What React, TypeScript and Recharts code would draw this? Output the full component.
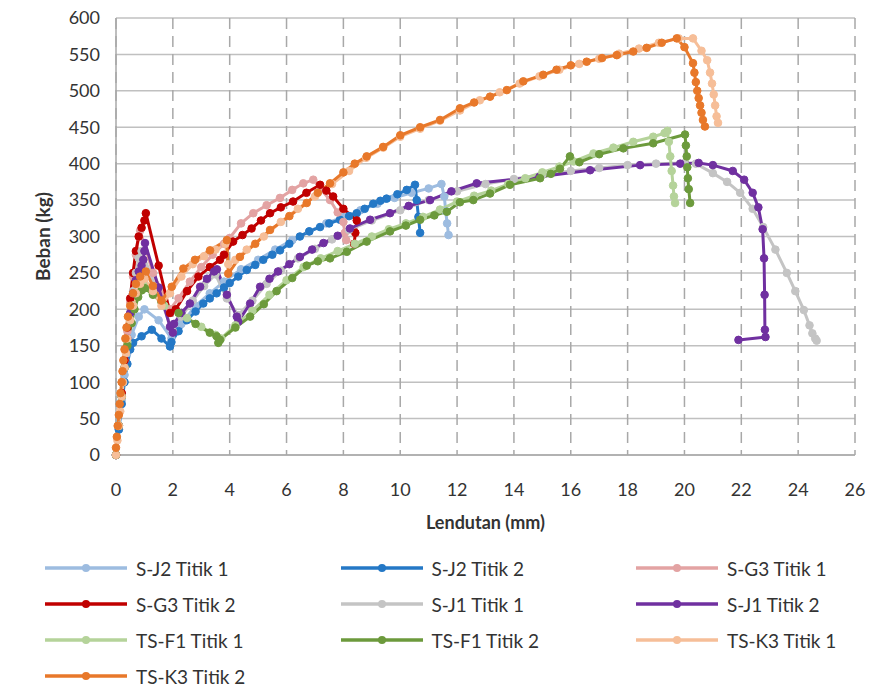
import { CartesianGrid, Label, Line, LineChart, XAxis, YAxis } from "recharts";

type Pt = [number, number];

// Lendutan (mm), Beban (kg)
const sj2t1: Pt[] = [
  [0, 0], [0.1, 35], [0.2, 75], [0.3, 110], [0.4, 140], [0.55, 165], [0.8, 190], [1.0, 200], [1.5, 185],
  [1.95, 160], [2.3, 180], [2.8, 205], [3.3, 222], [3.8, 238], [4.4, 255], [5.0, 268], [5.6, 282], [6.2, 295],
  [6.8, 307], [7.4, 318], [8.0, 327], [8.6, 336], [9.2, 345], [9.8, 353], [10.4, 360], [11.0, 366],
  [11.45, 372], [11.55, 355], [11.6, 335], [11.65, 318], [11.7, 302],
];
const sj2t2: Pt[] = [
  [0, 0], [0.1, 35], [0.2, 70], [0.3, 100], [0.4, 125], [0.5, 145], [0.6, 154], [0.9, 163], [1.26, 172],
  [1.6, 160], [1.9, 149], [1.95, 155], [2.2, 170], [2.49, 185], [2.8, 197], [3.07, 208], [3.3, 215],
  [3.54, 222], [3.8, 230], [4.0, 236], [4.3, 245], [4.6, 254], [4.9, 261], [5.18, 268], [5.5, 275],
  [5.77, 281], [6.1, 290], [6.47, 300], [6.8, 307], [7.18, 313], [7.5, 318], [7.88, 323], [8.2, 328],
  [8.47, 332], [8.75, 338], [9.05, 345], [9.3, 349], [9.52, 352], [9.9, 358], [10.23, 364], [10.52, 371],
  [10.58, 350], [10.64, 327], [10.7, 305],
];
const sg3t1: Pt[] = [
  [0, 0], [0.1, 40], [0.2, 85], [0.3, 130], [0.4, 170], [0.5, 210], [0.6, 245], [0.7, 275], [0.8, 300],
  [0.85, 308], [1.3, 250], [1.9, 200], [2.2, 215], [2.6, 238], [3.0, 258], [3.4, 275], [3.8, 290], [4.0, 298],
  [4.4, 318], [4.83, 332], [5.3, 343], [5.77, 353], [6.2, 364], [6.59, 373], [6.94, 378], [7.2, 365],
  [7.53, 350], [7.8, 333], [8.0, 320], [8.05, 305], [8.1, 295],
];
const sg3t2: Pt[] = [
  [0, 0], [0.1, 40], [0.2, 85], [0.3, 130], [0.4, 175], [0.5, 215], [0.6, 250], [0.7, 280], [0.8, 300],
  [0.9, 312], [1.0, 322], [1.05, 332], [1.5, 260], [1.9, 195], [2.1, 200], [2.5, 225], [2.9, 245], [3.3, 258],
  [3.66, 268], [3.8, 275], [4.12, 293], [4.45, 302], [4.77, 311], [5.1, 322], [5.42, 332], [5.8, 340],
  [6.23, 348], [6.7, 360], [7.18, 371], [7.4, 363], [7.64, 355], [8.0, 338], [8.47, 322], [8.42, 305],
  [8.38, 290],
];
const sj1t1: Pt[] = [
  [0, 0], [0.1, 40], [0.2, 80], [0.3, 120], [0.4, 160], [0.5, 195], [0.6, 225], [0.7, 250], [0.8, 270],
  [0.9, 280], [1.4, 230], [2.0, 170], [2.3, 190], [2.7, 212], [3.1, 232], [3.5, 248], [3.9, 215], [4.3, 192],
  [4.8, 212], [5.3, 235], [5.8, 253], [6.4, 270], [7.0, 283], [7.6, 296], [8.2, 309], [9.0, 322], [10.0, 336],
  [11.0, 350], [12.0, 362], [13.0, 372], [14.0, 379], [15.0, 385], [16.0, 390], [17.0, 394], [18.0, 398],
  [19.0, 400], [20.0, 401], [20.4, 400], [21.0, 387], [21.5, 375], [21.96, 360], [22.4, 338], [22.77, 313],
  [23.2, 282], [23.6, 250], [23.9, 225], [24.2, 199], [24.4, 178], [24.5, 167], [24.6, 160], [24.65, 157],
];
const sj1t2: Pt[] = [
  [0, 0], [0.1, 40], [0.2, 80], [0.3, 120], [0.4, 160], [0.5, 195], [0.6, 222], [0.7, 240], [0.8, 252],
  [0.9, 260], [0.96, 268], [1.0, 280], [1.02, 291], [1.5, 230], [1.9, 176], [2.0, 168], [2.04, 180],
  [2.3, 195], [2.6, 208], [2.96, 231], [3.2, 242], [3.45, 252], [3.55, 255], [3.9, 220], [4.25, 190],
  [4.3, 183], [4.72, 208], [5.07, 231], [5.4, 242], [5.7, 252], [6.1, 262], [6.47, 272], [6.9, 282],
  [7.3, 291], [7.8, 301], [8.23, 311], [8.94, 323], [9.64, 332], [10.3, 342], [11.05, 350], [11.8, 362],
  [12.69, 373], [14.9, 382], [16.68, 391], [18.44, 398], [19.85, 400], [20.5, 401], [21.0, 398],
  [21.7, 390], [22.1, 378], [22.4, 360], [22.6, 340], [22.75, 310], [22.8, 270], [22.82, 220],
  [22.83, 172], [22.85, 162], [21.9, 158],
];
const tsf1t1: Pt[] = [
  [0, 0], [0.1, 40], [0.2, 80], [0.3, 120], [0.4, 155], [0.5, 185], [0.6, 205], [0.75, 222], [0.95, 235],
  [1.3, 222], [1.7, 205], [2.5, 188], [3.0, 176], [3.5, 165], [3.7, 160], [4.2, 178], [4.8, 198], [5.4, 220],
  [6.0, 240], [6.6, 258], [7.2, 270], [7.8, 280], [8.4, 290], [9.0, 300], [9.6, 310], [10.2, 318],
  [10.8, 327], [11.4, 337], [12.0, 348], [12.6, 356], [13.2, 363], [13.8, 372], [14.4, 380], [15.0, 388],
  [15.6, 396], [16.1, 403], [16.8, 414], [17.5, 422], [18.2, 430], [18.9, 437], [19.3, 442], [19.4, 445],
  [19.45, 430], [19.5, 410], [19.55, 390], [19.6, 370], [19.63, 355], [19.67, 346],
];
const tsf1t2: Pt[] = [
  [0, 0], [0.1, 40], [0.2, 80], [0.3, 120], [0.4, 150], [0.55, 181], [0.65, 200], [0.78, 217], [0.9, 226],
  [1.02, 229], [1.3, 220], [1.6, 210], [2.2, 195], [2.8, 180], [3.3, 168], [3.54, 163], [3.6, 154],
  [3.66, 158], [4.2, 175], [4.72, 190], [5.2, 207], [5.65, 225], [6.2, 243], [6.71, 260], [7.1, 266],
  [7.53, 270], [8.12, 279], [8.82, 293], [9.64, 307], [10.2, 315], [10.7, 323], [11.2, 329], [11.64, 334],
  [12.1, 347], [12.57, 350], [13.16, 359], [13.86, 371], [14.92, 380], [15.3, 386], [15.62, 393],
  [15.97, 410], [16.3, 402], [17.0, 413], [17.85, 421], [18.9, 428], [20.02, 440], [20.05, 425],
  [20.08, 410], [20.1, 395], [20.12, 380], [20.15, 365], [20.2, 346],
];
const tsk3t1: Pt[] = [
  [0, 0], [0.05, 20], [0.1, 40], [0.15, 60], [0.2, 80], [0.25, 100], [0.3, 120], [0.35, 140], [0.4, 160],
  [0.5, 185], [0.6, 205], [0.7, 222], [0.85, 235], [1.0, 242], [1.3, 225], [1.6, 205], [1.9, 222],
  [2.3, 245], [2.7, 262], [3.1, 273], [3.5, 282], [3.85, 290], [3.95, 262], [4.2, 268], [4.6, 282],
  [5.2, 300], [5.8, 320], [6.4, 338], [7.0, 355], [7.6, 372], [8.2, 390], [8.8, 408], [9.4, 422],
  [10.0, 437], [10.7, 448], [11.4, 459], [12.1, 473], [12.8, 487], [13.5, 498], [14.2, 510], [14.9, 520],
  [15.6, 529], [16.3, 537], [17.0, 544], [17.7, 551], [18.4, 558], [19.1, 566], [19.8, 572], [20.3, 572],
  [20.6, 555], [20.8, 542], [20.9, 525], [20.97, 510], [21.03, 495], [21.08, 480], [21.13, 465],
  [21.18, 456],
];
const tsk3t2: Pt[] = [
  [0, 10], [0.03, 25], [0.06, 40], [0.1, 55], [0.13, 70], [0.16, 85], [0.2, 100], [0.23, 115], [0.26, 130],
  [0.3, 145], [0.33, 160], [0.37, 175], [0.42, 190], [0.5, 205], [0.6, 222], [0.7, 235], [0.85, 245],
  [1.05, 252], [1.3, 232], [1.6, 212], [1.96, 231], [2.37, 256], [2.78, 268], [3.31, 281], [3.9, 295],
  [3.95, 249], [4.36, 272], [4.9, 290], [5.42, 309], [6.1, 328], [6.71, 346], [7.1, 360], [7.53, 373],
  [8.0, 388], [8.4, 400], [8.82, 410], [9.4, 423], [10.0, 439], [10.7, 450], [11.4, 460], [12.1, 476],
  [12.6, 484], [13.16, 492], [13.75, 501], [14.33, 513], [15.03, 522], [15.5, 529], [16.0, 535],
  [16.56, 540], [17.1, 545], [17.62, 549], [18.2, 554], [18.67, 559], [19.2, 566], [19.73, 572],
  [20.0, 560], [20.3, 538], [20.35, 525], [20.4, 512], [20.45, 500], [20.5, 490], [20.55, 480],
  [20.6, 470], [20.65, 460], [20.72, 451],
];

const xTicks = [0, 2, 4, 6, 8, 10, 12, 14, 16, 18, 20, 22, 24, 26];
const yTicks = [0, 50, 100, 150, 200, 250, 300, 350, 400, 450, 500, 550, 600];

const series = [
  { name: "S-J2 Titik 1", color: "#9DBCE0", pts: sj2t1 },
  { name: "S-J2 Titik 2", color: "#2478C6", pts: sj2t2 },
  { name: "S-G3 Titik 1", color: "#E3A3A3", pts: sg3t1 },
  { name: "S-G3 Titik 2", color: "#C00000", pts: sg3t2 },
  { name: "S-J1 Titik 1", color: "#C4C4C4", pts: sj1t1 },
  { name: "S-J1 Titik 2", color: "#7030A0", pts: sj1t2 },
  { name: "TS-F1 Titik 1", color: "#B5D39A", pts: tsf1t1 },
  { name: "TS-F1 Titik 2", color: "#6C9A3C", pts: tsf1t2 },
  { name: "TS-K3 Titik 1", color: "#F6BE98", pts: tsk3t1 },
  { name: "TS-K3 Titik 2", color: "#E8782A", pts: tsk3t2 },
];

const FONT = "Lato, 'Open Sans', sans-serif";
const INK = "#333333";

function XTitle(props: any) {
  const vb = props.viewBox;
  return (
    <text x={vb.x + vb.width / 2} y={vb.y + 74} textAnchor="middle" fontWeight={700} fontSize={18} fill={INK} fontFamily={FONT}>
      Lendutan (mm)
    </text>
  );
}

function YTitle(props: any) {
  const vb = props.viewBox;
  const cx = vb.x + 42;
  const cy = vb.y + vb.height / 2;
  return (
    <text x={cx} y={cy} transform={`rotate(-90 ${cx} ${cy})`} textAnchor="middle" dominantBaseline="central" fontWeight={700} fontSize={19} fill={INK} fontFamily={FONT}>
      Beban (kg)
    </text>
  );
}

export default function App() {
  return (
    <div style={{ position: "absolute", left: 0, top: 0, width: 875, height: 690, background: "#fff", fontFamily: FONT }}>
      <LineChart width={875} height={540} margin={{ top: 18, right: 20, bottom: 0, left: 0 }}>
        <CartesianGrid vertical={false} stroke="#C0C0C0" strokeWidth={1.5} />
        <CartesianGrid horizontal={false} stroke="#A8A8A8" strokeWidth={1.5} strokeDasharray="11 7" />
        <XAxis
          type="number"
          dataKey="x"
          domain={[0, 26]}
          ticks={xTicks}
          interval={0}
          height={85}
          tickLine={false}
          tickMargin={22}
          axisLine={{ stroke: "#A8A8A8", strokeWidth: 1.5 }}
          tick={{ fill: INK, fontSize: 18, fontFamily: FONT }}
        >
          <Label content={XTitle} />
        </XAxis>
        <YAxis
          type="number"
          domain={[0, 600]}
          ticks={yTicks}
          interval={0}
          width={116}
          tickLine={false}
          tickMargin={10}
          axisLine={{ stroke: "#A8A8A8", strokeWidth: 1.5 }}
          tick={{ fill: INK, fontSize: 18, fontFamily: FONT }}
        >
          <Label content={YTitle} />
        </YAxis>
        {series.map((s) => (
          <Line
            key={s.name}
            data={s.pts.map(([x, y]) => ({ x, y }))}
            dataKey="y"
            name={s.name}
            stroke={s.color}
            strokeWidth={3}
            dot={{ r: 3.8, fill: s.color, stroke: s.color, strokeWidth: 1 }}
            isAnimationActive={false}
          />
        ))}
      </LineChart>
      {series.map((s, i) => {
        const col = i % 3;
        const row = Math.floor(i / 3);
        return (
          <div
            key={s.name}
            style={{ position: "absolute", left: 45 + col * 295.5, top: 556 + row * 36, height: 24, display: "flex", alignItems: "center" }}
          >
            <svg width={82} height={12} style={{ display: "block" }}>
              <line x1={0} y1={6} x2={82} y2={6} stroke={s.color} strokeWidth={3.5} />
              <circle cx={41} cy={6} r={4} fill={s.color} />
            </svg>
            <span style={{ marginLeft: 9, fontSize: 19, color: INK, whiteSpace: "nowrap" }}>{s.name}</span>
          </div>
        );
      })}
    </div>
  );
}
